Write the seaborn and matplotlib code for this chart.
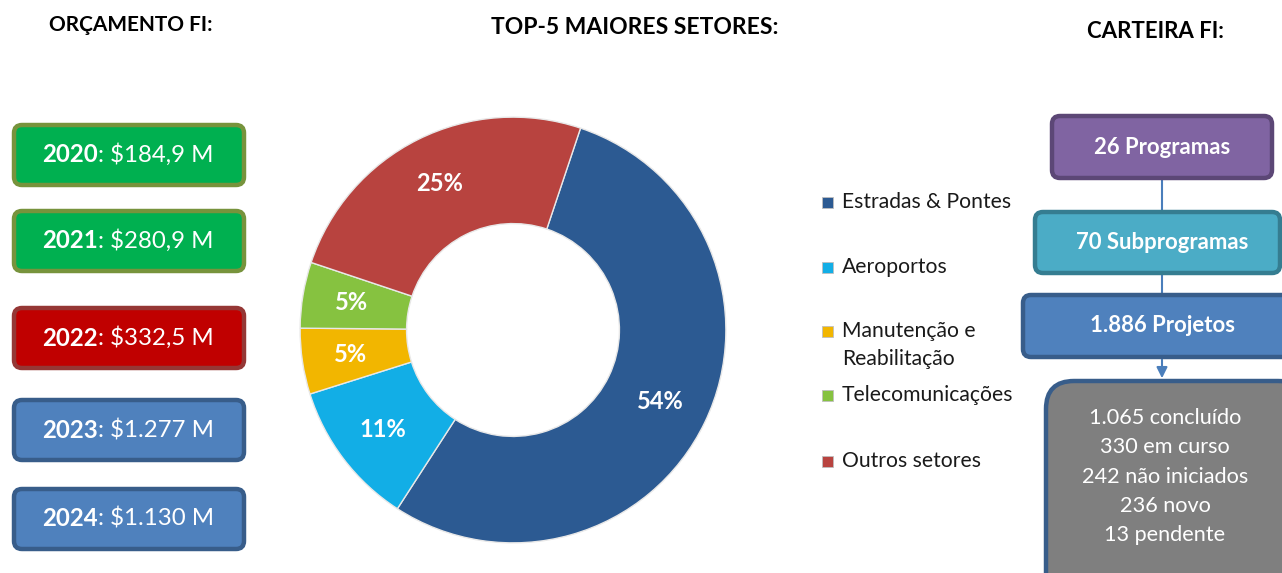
import matplotlib.pyplot as plt
import seaborn as sns
from matplotlib.patches import FancyBboxPatch, Rectangle

# dados
anos = ['2020', '2021', '2022', '2023', '2024']
orcamento = ['$184,9 M', '$280,9 M', '$332,5 M', '$1.277 M', '$1.130 M']
setores = ['Estradas & Pontes', 'Aeroportos', 'Manutenção e\nReabilitação', 'Telecomunicações', 'Outros setores']
percentuais = [54, 11, 5, 5, 25]
carteira = ['26 Programas', '70 Subprogramas', '1.886 Projetos']
status_qtd = ['1.065', '330', '242', '236', '13']
status_nome = ['concluído', 'em curso', 'não iniciados', 'novo', 'pendente']

sns.set_theme(style='white')
plt.rcParams['font.family'] = ['Lato', 'DejaVu Sans']

cores_setores = ['#2C5A92', '#12AEE6', '#F2B600', '#86C240', '#B8433F']
cores_anos = ['#00B050', '#00B050', '#C00000', '#4F81BD', '#4F81BD']
bordas_anos = ['#77933C', '#77933C', '#953735', '#385D8A', '#385D8A']

fig = plt.figure(figsize=(12.82, 5.73), dpi=100)
ax = fig.add_axes([0, 0, 1, 1])
ax.set_xlim(0, 1282)
ax.set_ylim(573, 0)
ax.axis('off')

# titulos
ax.text(131, 25, 'ORÇAMENTO FI:', ha='center', va='center', fontsize=15, fontweight='bold', color='black')
ax.text(635, 28, 'TOP-5 MAIORES SETORES:', ha='center', va='center', fontsize=16.5, fontweight='bold', color='black')
ax.text(1155, 32, 'CARTEIRA FI:', ha='center', va='center', fontsize=16, fontweight='bold', color='black')

# caixas do orcamento
renderer = fig.canvas.get_renderer()
caixas_y = [155, 241, 338, 430, 519]
for i, ano in enumerate(anos):
    y = caixas_y[i]
    box = FancyBboxPatch((14, y - 30), 230, 60, boxstyle='round,pad=0,rounding_size=8',
                         facecolor=cores_anos[i], edgecolor=bordas_anos[i], linewidth=3.2)
    ax.add_patch(box)
    t1 = ax.text(0, y, ano, ha='left', va='center', fontsize=17.3, fontweight='bold', color='white')
    t2 = ax.text(0, y, ': ' + orcamento[i], ha='left', va='center', fontsize=17.3, color='white')
    w1 = t1.get_window_extent(renderer).width
    w2 = t2.get_window_extent(renderer).width
    x0 = 128 - (w1 + w2) / 2
    t1.set_x(x0)
    t2.set_x(x0 + w1)

# donut
ax2 = fig.add_axes([(513 - 215) / 1282, (573 - 330 - 215) / 573, 430 / 1282, 430 / 573])
ax2.pie(percentuais, colors=cores_setores, startangle=71.5, counterclock=False, radius=1,
        wedgeprops=dict(width=0.5, edgecolor='#E8E8E8', linewidth=1),
        autopct='%d%%', pctdistance=0.77,
        textprops=dict(color='white', fontweight='bold', fontsize=17))
ax2.set_xlim(-1.01, 1.01)
ax2.set_ylim(-1.01, 1.01)
ax2.set_aspect('equal')

# legenda
leg_y = [202, 267, 331, 395, 461]
for i, setor in enumerate(setores):
    y = leg_y[i]
    ax.add_patch(Rectangle((822, y - 5.5), 11, 11, facecolor=cores_setores[i], edgecolor='#BFBFBF', linewidth=0.6))
    for j, linha in enumerate(setor.split('\n')):
        ax.text(842, y + j * 28, linha, ha='left', va='center', fontsize=15.2, color='#1A1A1A')

# carteira
ax.plot([1162, 1162], [178, 212], color='#4A7EBB', lw=1.5, zorder=1)
ax.plot([1162, 1162], [273, 295], color='#4A7EBB', lw=1.5, zorder=1)
ax.annotate('', xy=(1162, 381), xytext=(1162, 357),
            arrowprops=dict(arrowstyle='-|>', color='#4A7EBB', lw=1.5, mutation_scale=16), zorder=1)

caixas_carteira = [(1052, 116, 220, 62, '#8064A2', '#5C4776'),
                   (1035, 212, 245, 61, '#4BACC6', '#357D91'),
                   (1023, 295, 270, 62, '#4F81BD', '#385D8A')]
for nome, (x, y, w, h, fc, ec) in zip(carteira, caixas_carteira):
    ax.add_patch(FancyBboxPatch((x, y), w, h, boxstyle='round,pad=0,rounding_size=8',
                                facecolor=fc, edgecolor=ec, linewidth=3.2, zorder=2))
    ax.text(1162, y + h / 2, nome, ha='center', va='center', fontsize=15.9, fontweight='bold', color='white', zorder=3)

ax.add_patch(FancyBboxPatch((1046, 381), 260, 230, boxstyle='round,pad=0,rounding_size=28',
                            facecolor='#7F7F7F', edgecolor='#385D8A', linewidth=3.2, zorder=2))
for k, (q, n) in enumerate(zip(status_qtd, status_nome)):
    ax.text(1165, 418 + k * 29.3, q + ' ' + n, ha='center', va='center', fontsize=15.6, color='white', zorder=3)

fig.savefig('out.png', dpi=100)
